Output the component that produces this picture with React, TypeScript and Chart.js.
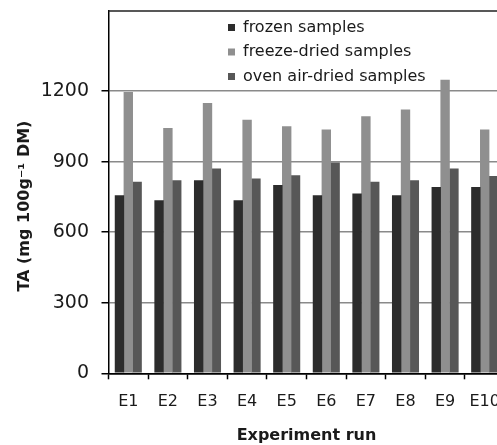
import React, { useEffect, useRef } from 'react';
import { Chart, registerables } from 'chart.js';

Chart.register(...registerables);

// ---- data ----
const categories = ['E1', 'E2', 'E3', 'E4', 'E5', 'E6', 'E7', 'E8', 'E9', 'E10'];
const frozen = [757, 736, 821, 736, 800, 757, 764, 757, 792, 792];
const freezeDried = [1196, 1043, 1149, 1078, 1050, 1036, 1093, 1121, 1248, 1036];
const ovenDried = [814, 821, 870, 828, 842, 896, 814, 821, 870, 839];
const seriesNames = ['frozen samples', 'freeze-dried samples', 'oven air-dried samples'];
const yTicks = [0, 300, 600, 900, 1200];
const yMin = 0;
const yMax = 1540;
const xTitle = 'Experiment run';
const yTitle = 'TA (mg 100g\u207B\u00B9 DM)';

// ---- styles ----
const COLORS = ['#2c2c2c', '#8f8f8f', '#575757'];
const CANVAS_W = 520;
const CANVAS_H = 445;
const AREA_LEFT = 108.5;
const AREA_TOP = 11;
const AREA_RIGHT = 504.5;
const AREA_BOTTOM = 373.3;
const LEGEND_DX = 111;

const legendPlacer = {
  id: 'legendPlacer',
  afterLayout(chart: any) {
    const lg = chart.legend;
    const ca = chart.chartArea;
    if (!lg || !ca) return;
    lg.left = ca.left + LEGEND_DX;
    lg.right = lg.left + 320;
    lg.top = ca.top;
    lg.bottom = ca.bottom;
    lg.width = lg.right - lg.left;
    lg.height = lg.bottom - lg.top;
  },
};

const frame = {
  id: 'frame',
  afterDraw(chart: any) {
    const { ctx, chartArea: ca } = chart;
    ctx.save();
    ctx.strokeStyle = '#222';
    ctx.lineWidth = 1.5;
    ctx.beginPath();
    ctx.moveTo(ca.left, ca.top);
    ctx.lineTo(ca.right, ca.top);
    ctx.lineTo(ca.right, ca.bottom);
    ctx.stroke();
    ctx.restore();
  },
};

export default function App() {
  const ref = useRef<HTMLCanvasElement | null>(null);

  useEffect(() => {
    if (!ref.current) return;
    const series = [frozen, freezeDried, ovenDried];
    const chart = new Chart(ref.current, {
      type: 'bar',
      data: {
        labels: categories,
        datasets: series.map((d, i) => ({
          label: seriesNames[i],
          data: d,
          backgroundColor: COLORS[i],
          borderWidth: 0,
          categoryPercentage: 0.67,
          barPercentage: 1.06,
        })),
      },
      options: {
        responsive: false,
        animation: false,
        devicePixelRatio: 1,
        layout: {
          padding: { left: 0, top: AREA_TOP, right: CANVAS_W - AREA_RIGHT, bottom: 0 },
        },
        plugins: {
          tooltip: { enabled: false },
          legend: {
            position: 'chartArea',
            align: 'start',
            labels: {
              boxWidth: 7,
              boxHeight: 7,
              padding: 8.5,
              color: '#1a1a1a',
              font: { family: 'DejaVu Sans', size: 16 },
            },
          },
        },
        scales: {
          x: {
            offset: true,
            grid: {
              display: true,
              offset: true,
              drawOnChartArea: false,
              drawTicks: true,
              tickLength: 6,
              tickColor: '#000',
              tickWidth: 1.5,
            },
            border: { display: true, color: '#000', width: 1.5 },
            ticks: {
              color: '#1a1a1a',
              padding: 12.8,
              maxRotation: 0,
              autoSkip: false,
              font: { family: 'DejaVu Sans', size: 16 },
            },
            title: {
              display: true,
              text: xTitle,
              color: '#1a1a1a',
              padding: { top: 0, bottom: 0 },
              font: { family: 'DejaVu Sans', size: 16, weight: 'bold' },
            },
            afterFit: (scale: any) => {
              scale.height = CANVAS_H - AREA_BOTTOM;
              scale.paddingLeft = 0;
              scale.paddingRight = 0;
            },
          },
          y: {
            min: yMin,
            max: yMax,
            afterBuildTicks: (scale: any) => {
              scale.ticks = yTicks.map((v) => ({ value: v }));
            },
            grid: {
              color: (c: any) => (c.tick && c.tick.value === 0 ? '#000' : '#8a8a8a'),
              lineWidth: 1.5,
              drawTicks: true,
              tickLength: 7,
              tickColor: '#000',
              tickWidth: 1.5,
            },
            border: { display: true, color: '#000', width: 1.5 },
            ticks: {
              color: '#1a1a1a',
              padding: 12.5,
              font: { family: 'DejaVu Sans', size: 19 },
              callback: (v: any) => String(v),
            },
            title: {
              display: true,
              text: yTitle + '     ',
              color: '#1a1a1a',
              padding: { top: 15.4, bottom: 0 },
              font: { family: 'DejaVu Sans', size: 16, weight: 'bold' },
            },
            afterFit: (scale: any) => {
              scale.width = AREA_LEFT;
              scale.paddingTop = 0;
              scale.paddingBottom = 0;
            },
          },
        },
      },
      plugins: [legendPlacer, frame],
    } as any);
    return () => chart.destroy();
  }, []);

  return (
    <div
      style={{
        position: 'fixed',
        left: 0,
        top: 0,
        width: 497,
        height: 445,
        overflow: 'hidden',
        background: '#fff',
      }}
    >
      <canvas
        ref={ref}
        width={CANVAS_W}
        height={CANVAS_H}
        style={{ display: 'block', width: CANVAS_W, height: CANVAS_H }}
      />
    </div>
  );
}
